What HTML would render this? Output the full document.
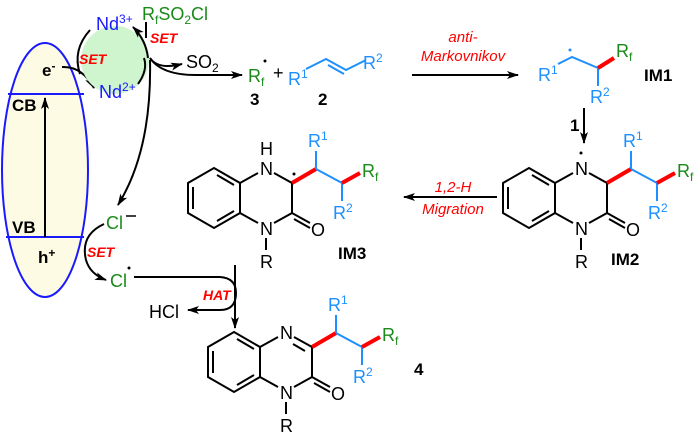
<!DOCTYPE html>
<html><head><meta charset="utf-8"><style>
html,body{margin:0;padding:0;background:#fff}
svg{display:block}
text{font-family:"Liberation Sans",Arial,sans-serif}
.k{stroke:#000;stroke-width:2;fill:none}
.b{stroke:#1e8fff;stroke-width:2;fill:none}
.r{stroke:#ff0000;stroke-width:4;fill:none}
.bl{fill:#1e8fff;font-size:18px}
.gr{fill:#1a8a1a;font-size:18px}
.bk{fill:#000;font-size:18px}
.set{fill:#ff0000;font-size:14px;font-weight:bold;font-style:italic}
.it{fill:#ff0000;font-size:15px;font-style:italic}
.bd{font-weight:bold;font-size:17px;fill:#000}
</style></head><body>
<svg width="700" height="432" viewBox="0 0 700 432" xmlns="http://www.w3.org/2000/svg">
<defs>
<marker id="ah" markerWidth="12" markerHeight="8" refX="11" refY="4" orient="auto" markerUnits="userSpaceOnUse">
<path d="M0,0 L12,4 L0,8 L3,4 Z" fill="#000"/></marker>
<g id="core">
<path class="k" d="M0,-30 L26,-15 L26,15 L0,30 L-26,15 L-26,-15 Z"/>
<path class="k" d="M3,-23 L20,-13 M-21,-11 L-21,11 M3,23 L20,13"/>
<path class="k" d="M26,-15 L44,-25 M60,-25 L78,-15 L78,15 L60,25 M44,25 L26,15"/>
<path class="k" d="M78,15 L96,25 M80,21 L96,30"/>
<text x="97" y="38" class="bk">O</text>
<text x="46" y="37" class="bk">N</text>
<path class="k" d="M52,40 L52,52"/>
<text x="46" y="70" class="bk">R</text>
<path class="r" d="M78,-15 L102,-29"/>
<path class="b" d="M102,-29 L128,-15 M102,-29 L102,-47 M128,-15 L128,3"/>
<path class="r" d="M128,-15 L146,-25"/>
<text x="148" y="-21" class="gr">R<tspan font-size="12" dy="4">f</tspan></text>
<text x="94" y="-51" class="bl">R<tspan font-size="12" dy="-7">1</tspan></text>
<text x="119" y="21" class="bl">R<tspan font-size="12" dy="-7">2</tspan></text>
</g>
</defs>

<ellipse cx="45" cy="170" rx="43" ry="127" fill="#fdfbe3" stroke="#1a1aff" stroke-width="2"/>
<path d="M8,94 L84,94 M6,237 L84,237" stroke="#1a1aff" stroke-width="2"/>
<path class="k" d="M45,237 L45,98" marker-end="url(#ah)"/>
<text x="12" y="111" class="bd">CB</text>
<text x="12" y="233" class="bd">VB</text>
<text x="38" y="263" class="bd">h<tspan font-size="12" dy="-6">+</tspan></text>
<text x="42" y="76" class="bd">e<tspan font-size="12" dy="-6">-</tspan></text>
<path class="k" d="M62,67 Q82,66 94,88" marker-end="url(#ah)"/>

<circle cx="115" cy="60" r="34" fill="#cff5cf"/>
<path class="k" d="M90,30 Q72,50 80,74"/>
<path class="k" d="M138,84 Q148,70 144,58"/>
<path class="k" d="M148,58 Q146,40 133,27" marker-end="url(#ah)"/>
<text x="96" y="30" fill="#1a1aff" font-size="18">Nd<tspan font-size="12" dy="-7">3+</tspan></text>
<text x="99" y="98" fill="#1a1aff" font-size="18">Nd<tspan font-size="12" dy="-7">2+</tspan></text>
<text x="79" y="64" class="set">SET</text>
<text x="150" y="43" class="set">SET</text>
<text x="142" y="20" class="gr">R<tspan font-size="12" dy="4">f</tspan><tspan dy="-4">SO</tspan><tspan font-size="12" dy="4">2</tspan><tspan dy="-4">Cl</tspan></text>
<path class="k" d="M146,22 L146,38"/>
<path class="k" d="M150,58 Q158,70 182,64" marker-end="url(#ah)"/>
<path class="k" d="M150,58 Q162,76 200,75 L242,75" marker-end="url(#ah)"/>
<text x="186" y="68" class="bk">SO<tspan font-size="12" dy="4">2</tspan></text>
<path class="k" d="M150,60 Q152,150 118,205" marker-end="url(#ah)"/>

<text x="248" y="82" class="gr">R<tspan font-size="12" dy="4">f</tspan></text>
<circle cx="265" cy="61" r="1.5" fill="#000"/>
<text x="250" y="105" class="bd">3</text>
<text x="273" y="79" class="bk">+</text>
<text x="288" y="85" class="bl">R<tspan font-size="12" dy="-7">1</tspan></text>
<path class="b" d="M306,69 L326,59 L346,70 L366,60 M328,65 L344,74"/>
<text x="363" y="69" class="bl">R<tspan font-size="12" dy="-7">2</tspan></text>
<text x="318" y="105" class="bd">2</text>

<text x="463" y="42" class="it" text-anchor="middle">anti-</text>
<text x="463" y="61" class="it" text-anchor="middle">Markovnikov</text>
<path class="k" d="M412,75 L518,75" marker-end="url(#ah)"/>

<text x="538" y="81" class="bl">R<tspan font-size="12" dy="-7">1</tspan></text>
<circle cx="570" cy="50" r="1.5" fill="#1e8fff"/>
<path class="b" d="M558,64 L572,57 L598,68 L598,86"/>
<path class="r" d="M598,68 L614,58"/>
<text x="616" y="57" class="gr">R<tspan font-size="12" dy="4">f</tspan></text>
<text x="590" y="103" class="bl">R<tspan font-size="12" dy="-7">2</tspan></text>
<text x="644" y="81" class="bd">IM1</text>
<path class="k" d="M584,108 L584,143" marker-end="url(#ah)"/>
<text x="570" y="131" class="bd">1</text>

<g transform="translate(529,198)"><use href="#core"/>
<text x="46" y="-23" class="bk">N</text>
<circle cx="52" cy="-45" r="1.5" fill="#000"/></g>
<text x="611" y="265" class="bd">IM2</text>

<path class="k" d="M497,197 L404,197" marker-end="url(#ah)"/>
<text x="453" y="192" class="it" text-anchor="middle">1,2-H</text>
<text x="453" y="214" class="it" text-anchor="middle">Migration</text>

<g transform="translate(214,198)"><use href="#core"/>
<text x="46" y="-23" class="bk">N</text>
<text x="46" y="-43" class="bk">H</text>
<circle cx="80" cy="-24" r="1.5" fill="#000"/></g>
<text x="338" y="259" class="bd">IM3</text>

<text x="106" y="229" class="gr">Cl</text>
<path d="M126,216 L136,216" stroke="#000" stroke-width="1.5"/>
<text x="87" y="257" class="set">SET</text>
<path class="k" d="M104,224 Q80,235 86,260 Q90,274 106,280" marker-end="url(#ah)"/>
<text x="110" y="287" class="gr">Cl</text>
<circle cx="129" cy="268" r="1.5" fill="#000"/>
<path class="k" d="M134,277 L220,277 Q236,278 236,293 Q236,310 220,310 L188,310" marker-end="url(#ah)"/>
<path class="k" d="M235,265 L235,328" marker-end="url(#ah)"/>
<text x="149" y="318" class="bk">HCl</text>
<text x="203" y="300" class="set">HAT</text>

<g transform="translate(234,362)"><use href="#core"/>
<text x="46" y="-23" class="bk">N</text>
<path class="k" d="M71,-11 L59,-18"/></g>
<text x="414" y="375" class="bd">4</text>
</svg>
</body></html>
